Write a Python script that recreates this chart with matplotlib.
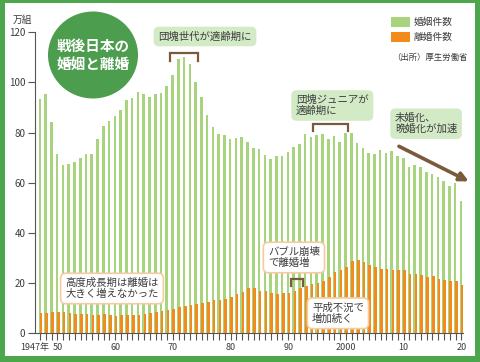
import matplotlib

matplotlib.use("Agg")

import matplotlib.pyplot as plt
from matplotlib.patches import Ellipse, Rectangle
from matplotlib.transforms import ScaledTranslation

plt.rcParams["font.family"] = ["Noto Sans CJK JP", "DejaVu Sans"]

# 婚姻件数・離婚件数 (万組), 1947-2020
years = list(range(1947, 2021))
marriages = [
    93.4, 95.3, 84.2, 71.5, 67.1, 67.6, 68.2, 69.7, 71.5, 71.5,
    77.3, 82.6, 84.7, 86.6, 89.0, 92.8, 93.7, 96.3, 95.5, 94.0,
    95.3, 95.6, 98.4, 102.9, 109.2, 110.0, 107.2, 100.1, 94.2, 87.1,
    82.1, 79.3, 78.9, 77.5, 77.7, 78.1, 76.3, 73.9, 73.6, 71.0,
    69.6, 70.8, 70.8, 72.2, 74.2, 75.4, 79.3, 78.2, 79.2, 79.5,
    77.6, 78.5, 76.2, 79.8, 80.0, 75.7, 74.0, 72.0, 71.4, 73.1,
    72.0, 72.6, 70.8, 70.0, 66.2, 66.9, 66.1, 64.4, 63.5, 62.1,
    60.7, 58.6, 59.9, 52.6,
]
divorces = [
    7.9, 7.9, 8.2, 8.4, 8.2, 8.0, 7.6, 7.6, 7.5, 7.3,
    7.1, 7.4, 7.2, 6.9, 7.0, 7.1, 7.0, 7.3, 7.7, 7.9,
    8.4, 8.8, 9.1, 9.6, 10.4, 10.8, 11.2, 11.4, 11.9, 12.5,
    13.0, 13.2, 13.5, 14.2, 15.5, 16.4, 17.9, 17.9, 16.7, 16.6,
    15.8, 15.4, 15.8, 15.8, 16.9, 17.9, 18.8, 19.6, 19.9, 20.7,
    22.3, 24.3, 25.1, 26.4, 28.6, 29.0, 28.4, 27.1, 26.2, 25.7,
    25.5, 25.1, 25.3, 25.1, 23.6, 23.5, 23.1, 22.2, 22.6, 21.7,
    21.2, 20.8, 20.9, 19.3,
]
x_tick_years = [1947, 1950, 1960, 1970, 1980, 1990, 2000, 2010, 2020]
x_tick_labels = ["1947年", "50", "60", "70", "80", "90", "2000", "10", "20"]
y_ticks = [0, 20, 40, 60, 80, 100, 120]

# brackets: (start year, end year, top value, leg bottom value)
brackets = [
    (1969.5, 1974.4, 111.6, 108.5),
    (1994.3, 2000.4, 83.3, 80.5),
    (1990.5, 1992.5, 21.5, 18.8),
]

GREEN_BAR = "#a9d47e"
ORANGE_BAR = "#f28b1c"
FRAME = "#4ea64c"
CIRCLE = "#4c9d4e"
BOX_GREEN = "#d3eac6"
BOX_EDGE_ORANGE = "#f6cba2"
TEXT = "#3c3c3c"
BROWN = "#7a5a3a"

W, H = 480, 362


def fx(px):
    return px / W


def fy(py):
    return 1 - py / H


fig = plt.figure(figsize=(4.8, 3.62), dpi=100)
fig.patch.set_facecolor(FRAME)
fig.add_artist(Rectangle((fx(5), fy(356)), fx(470), 353 / H,
                         transform=fig.transFigure, facecolor="white",
                         edgecolor="none", zorder=-1))

ax = fig.add_axes([fx(35), fy(333), fx(428), 300.7 / H])
ax.patch.set_alpha(0)

ax.bar([y - 0.06 for y in years], marriages, width=0.45,
       color=GREEN_BAR, zorder=2)
ax.bar([y + 0.14 for y in years], divorces, width=0.45,
       color=ORANGE_BAR, zorder=3)

ax.set_xlim(1946.1, 2020.3)
ax.set_ylim(0, 120)
ax.set_xticks(x_tick_years, x_tick_labels)
ax.set_xticks(years, minor=True)
ax.set_yticks(y_ticks)
ax.tick_params(axis="both", which="both", direction="out", length=5,
               width=0.8, color="#555555", labelsize=7, labelcolor=TEXT,
               pad=2)
for side in ("top", "right"):
    ax.spines[side].set_visible(False)
for side in ("left", "bottom"):
    ax.spines[side].set_color("#555555")
    ax.spines[side].set_linewidth(0.8)
ax.spines["left"].set_bounds(0, 120)

# "1947年" sits a little left of its tick, clear of "50"
first_label = ax.get_xticklabels()[0]
first_label.set_fontsize(6.5)
first_label.set_transform(first_label.get_transform()
                          + ScaledTranslation(-5 / 100, 0,
                                              fig.dpi_scale_trans))
for label in ax.get_xticklabels()[1:]:
    label.set_fontsize(6.5)

for x0, x1, top, bottom in brackets:
    ax.plot([x0, x0, x1, x1], [bottom, top, top, bottom], color=BROWN,
            lw=1.6, zorder=4, clip_on=False, solid_joinstyle="miter")

ax.annotate("", xy=(2021.3, 60.5), xytext=(2009.2, 74.5),
            arrowprops=dict(arrowstyle="-|>", color=BROWN, lw=2.6,
                            mutation_scale=13, shrinkA=0, shrinkB=0),
            annotation_clip=False, zorder=5)

fig.text(fx(13), fy(20), "万組", fontsize=7, color=TEXT, va="center")

# title circle
fig.add_artist(Ellipse((fx(93), fy(55)), fx(90), 87 / H,
                       transform=fig.transFigure, facecolor=CIRCLE,
                       edgecolor="none", zorder=3))
fig.text(fx(93), fy(55), "戦後日本の\n婚姻と離婚", fontsize=10.5,
         fontweight="bold", color="white", ha="center", va="center",
         linespacing=1.2, zorder=4)

green_box = dict(boxstyle="round,pad=0.45,rounding_size=0.5",
                 facecolor=BOX_GREEN, edgecolor="none")
white_box = dict(boxstyle="round,pad=0.45,rounding_size=0.5",
                 facecolor="white", edgecolor=BOX_EDGE_ORANGE, linewidth=1.2)

fig.text(fx(205), fy(36.5), "団塊世代が適齢期に", fontsize=7.5, color=TEXT,
         ha="center", va="center", bbox=green_box, zorder=5)
fig.text(fx(296), fy(105.5), "団塊ジュニアが\n適齢期に", fontsize=7.5,
         color=TEXT, ha="left", va="center", linespacing=1.1,
         bbox=green_box, zorder=5)
fig.text(fx(395), fy(123.7), "未婚化、\n晩婚化が加速", fontsize=7.5,
         color=TEXT, ha="left", va="center", linespacing=1.1,
         bbox=green_box, zorder=5)
fig.text(fx(112), fy(288.5), "高度成長期は離婚は\n大きく増えなかった",
         fontsize=7.5, color=TEXT, ha="center", va="center",
         linespacing=1.1, bbox=white_box, zorder=5)
fig.text(fx(268), fy(257.5), "バブル崩壊\nで離婚増", fontsize=7.5,
         color=TEXT, ha="left", va="center", linespacing=1.1,
         bbox=white_box, zorder=5)
fig.text(fx(312), fy(313.3), "平成不況で\n増加続く", fontsize=7.5,
         color=TEXT, ha="left", va="center", linespacing=1.1,
         bbox=white_box, zorder=5)

# legend
for top, color, label in ((16.7, GREEN_BAR, "婚姻件数"),
                          (31.7, ORANGE_BAR, "離婚件数")):
    fig.add_artist(Rectangle((fx(391), fy(top + 10.5)), fx(19), 10.5 / H,
                             transform=fig.transFigure, facecolor=color,
                             edgecolor="none", zorder=3))
    fig.text(fx(414), fy(top + 5.2), label, fontsize=7, color=TEXT,
             va="center", zorder=4)
fig.text(fx(392), fy(57.5), "（出所）厚生労働省", fontsize=6, color=TEXT,
         va="center", zorder=4)

fig.savefig("out.png", dpi=100, facecolor=fig.get_facecolor())
plt.close(fig)
